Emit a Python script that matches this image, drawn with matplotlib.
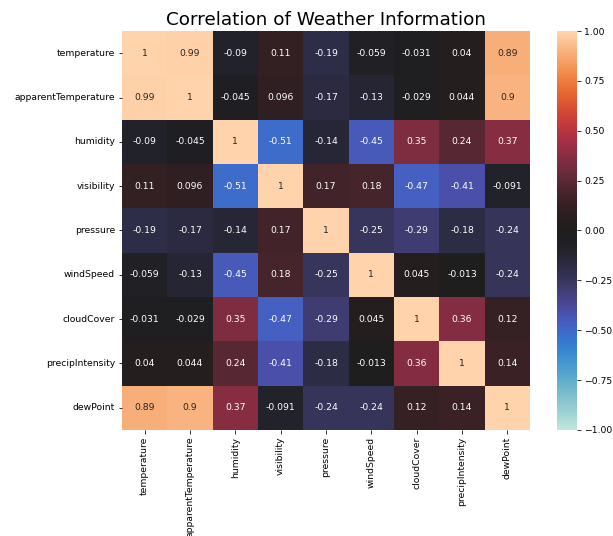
import numpy as np
import pandas as pd
import seaborn as sns
import matplotlib.pyplot as plt

cols = ['temperature', 'apparentTemperature', 'humidity', 'visibility', 'pressure',
        'windSpeed', 'cloudCover', 'precipIntensity', 'dewPoint']

# correlation rows, same order as cols
temperature = [1, 0.99, -0.09, 0.11, -0.19, -0.059, -0.031, 0.04, 0.89]
apparent_temp = [0.99, 1, -0.045, 0.096, -0.17, -0.13, -0.029, 0.044, 0.9]
humidity = [-0.09, -0.045, 1, -0.51, -0.14, -0.45, 0.35, 0.24, 0.37]
visibility = [0.11, 0.096, -0.51, 1, 0.17, 0.18, -0.47, -0.41, -0.091]
pressure = [-0.19, -0.17, -0.14, 0.17, 1, -0.25, -0.29, -0.18, -0.24]
wind_speed = [-0.059, -0.13, -0.45, 0.18, -0.25, 1, 0.045, -0.013, -0.24]
cloud_cover = [-0.031, -0.029, 0.35, -0.47, -0.29, 0.045, 1, 0.36, 0.12]
precip_intensity = [0.04, 0.044, 0.24, -0.41, -0.18, -0.013, 0.36, 1, 0.14]
dew_point = [0.89, 0.9, 0.37, -0.091, -0.24, -0.24, 0.12, 0.14, 1]

corr = pd.DataFrame([temperature, apparent_temp, humidity, visibility, pressure,
                     wind_speed, cloud_cover, precip_intensity, dew_point],
                    index=cols, columns=cols)

plt.rcParams['font.size'] = 9.2

fig = plt.figure(figsize=(613 / 72, 536 / 72), dpi=72)
ax = fig.add_axes([0.199, 0.198, 0.6656, 0.744])
cax = fig.add_axes([0.9086, 0.198, 0.0326, 0.744])

sns.heatmap(corr, annot=True, center=0, vmin=-1, vmax=1, ax=ax, cbar_ax=cax,
            annot_kws={'fontsize': 9.2})
ax.set_title('Correlation of Weather Information', fontsize=18.4)
ax.set_xticklabels(cols, rotation=90)
ax.set_yticklabels(cols, rotation=0)
ax.tick_params(labelsize=9.2)
cax.tick_params(labelsize=9.2)

plt.savefig('out.png', dpi=72)
